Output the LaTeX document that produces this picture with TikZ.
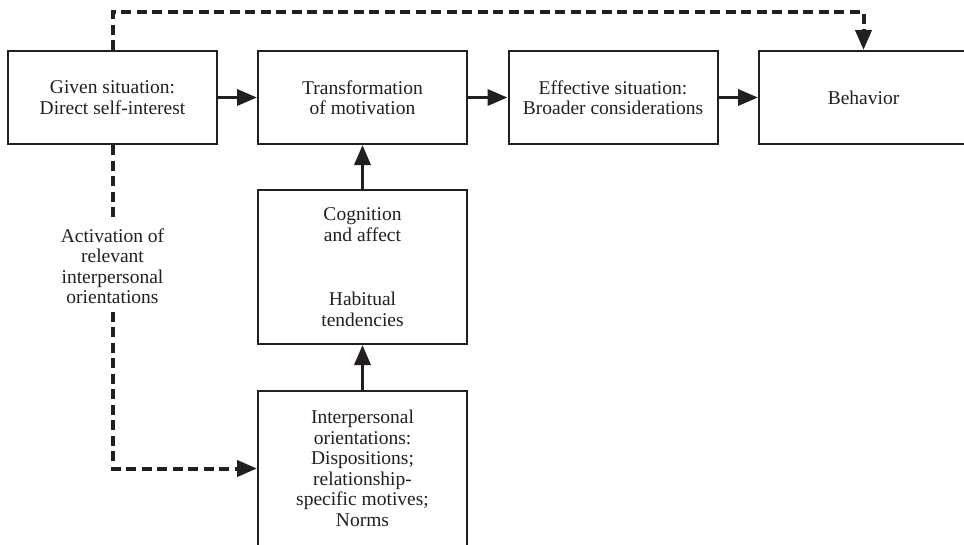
\documentclass[tikz,border=0pt]{standalone}
\usepackage{fontspec}
\setmainfont{Liberation Serif}
\usetikzlibrary{arrows.meta}
\definecolor{ink}{HTML}{231F20}
\begin{document}
\begin{tikzpicture}[x=1pt,y=-1pt,
  every node/.style={font=\fontsize{19.5}{20.5}\selectfont, text=ink, align=center},
  stagebox/.style={draw=ink, line width=2pt, minimum width=209pt, inner sep=0pt},
  flow/.style={draw=ink, line width=3.5pt, -{Triangle[length=20pt,width=16pt]}},
  cue/.style={draw=ink, line width=4pt, dash pattern=on 10pt off 5.5pt,
    -{Triangle[length=20pt,width=16pt]}}]
  \useasboundingbox (0,0) rectangle (964,544);
  \clip (0,0) rectangle (964,544);

  % main chain of stages
  \node[stagebox, minimum height=93pt] (given) at (112.5,97.5) {Given situation:\\Direct self-interest};
  \node[stagebox, minimum height=93pt] (transf) at (362.5,97.5) {Transformation\\of motivation};
  \node[stagebox, minimum height=93pt] (effect) at (613,97.5) {Effective situation:\\Broader considerations};
  \node[stagebox, minimum height=93pt] (behav) at (863.5,97.5) {Behavior};

  % processes feeding the transformation
  \node[stagebox, minimum height=154pt] (cog) at (362.5,267) {Cognition\\and affect\\[44pt]Habitual\\tendencies};
  \node[stagebox, minimum height=155pt] (orient) at (362.5,468.5) {Interpersonal\\orientations:\\Dispositions;\\relationship-\\specific motives;\\Norms};

  % label breaking the dashed activation path
  \node[inner sep=8pt] (activ) at (112.5,266) {Activation of\\relevant\\interpersonal\\orientations};

  % solid arrows
  \draw[flow] (given) -- (transf);
  \draw[flow] (transf) -- (effect);
  \draw[flow] (effect) -- (behav);
  \draw[flow] (cog) -- (transf);
  \draw[flow] (orient) -- (cog);

  % dashed paths
  \coordinate (topleft) at (112.5,12);
  \draw[cue] (given.north) -- (topleft) -| (behav.north);
  \draw[cue, -] (given.south) -- (activ.north);
  \draw[cue] (activ.south) |- (orient.west);
\end{tikzpicture}
\end{document}
